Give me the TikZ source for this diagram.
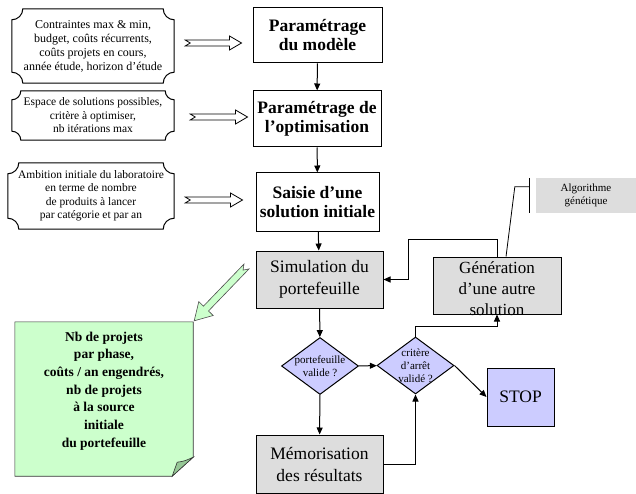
\documentclass[tikz,border=0pt]{standalone}
\usepackage{fontspec}
\setmainfont{Liberation Serif}
\usetikzlibrary{arrows.meta,calc,shapes.geometric,backgrounds}

\definecolor{boxgray}{RGB}{221,221,221}
\definecolor{lavender}{RGB}{204,204,255}
\definecolor{notegreen}{RGB}{204,255,204}
\definecolor{foldgreen}{RGB}{150,200,150}

\tikzset{
  flow/.style={line width=1pt,-{Triangle[length=7pt,width=6pt]}},
  stepbox/.style={draw,line width=1pt,fill=white,minimum width=128pt,minimum height=56pt,
    inner sep=0pt,align=center,font=\bfseries\fontsize{17.5}{19}\selectfont},
  simbox/.style={draw,line width=1pt,fill=boxgray,minimum width=127pt,minimum height=57pt,
    inner sep=0pt,align=center,font=\fontsize{17.5}{22}\selectfont},
  testbox/.style={diamond,draw,line width=1pt,fill=lavender,minimum width=77pt,
    minimum height=57pt,inner sep=0pt},
  smalltxt/.style={align=center,inner sep=0pt,font=\fontsize{11}{13}\selectfont},
  inbox/.style={align=center,inner sep=0pt,font=\fontsize{11.5}{13.5}\selectfont},
  notetxt/.style={align=center,inner sep=0pt,font=\bfseries\fontsize{13.5}{17.7}\selectfont},
  plaque/.style={line width=1pt},
  hollow/.style={line width=0.8pt,fill=white},
  greenarrow/.style={line width=0.6pt,draw=black!70,fill=notegreen}
}

% frame with hollowed corners round an input node
\newcommand\plaqueframe[2][11]{%
  \draw[plaque] ($(#2.north west)+(0,#1)$) .. controls ($(#2.north west)+(0.55*#1,#1)$) and ($(#2.north west)+(#1,0.55*#1)$) .. ($(#2.north west)+(#1,0)$)
    -- ($(#2.north east)+(-#1,0)$) .. controls ($(#2.north east)+(-#1,0.55*#1)$) and ($(#2.north east)+(-0.55*#1,#1)$) .. ($(#2.north east)+(0,#1)$)
    -- ($(#2.south east)+(0,-#1)$) .. controls ($(#2.south east)+(-0.55*#1,-#1)$) and ($(#2.south east)+(-#1,-0.55*#1)$) .. ($(#2.south east)+(-#1,0)$)
    -- ($(#2.south west)+(#1,0)$) .. controls ($(#2.south west)+(#1,-0.55*#1)$) and ($(#2.south west)+(0.55*#1,-#1)$) .. ($(#2.south west)+(0,-#1)$)
    -- cycle;}

% open block arrow with notched tail
\newcommand\hollowarrow[2]{%
  \draw[hollow] let \p1=(#1), \p2=(#2) in
    (\x1,\y1+3pt) -- (\x2-12pt,\y1+3pt) -- (\x2-12pt,\y1+7pt) -- (\x2,\y1)
    -- (\x2-12pt,\y1-7pt) -- (\x2-12pt,\y1-3pt) -- (\x1,\y1-3pt) -- (\x1+5pt,\y1) -- cycle;}

\begin{document}
\begin{tikzpicture}[x=1pt,y=-1pt]
  \useasboundingbox (0,0) rectangle (636,494);

  % main chain
  \node[stepbox,minimum width=129pt,minimum height=55pt] (par) at (317.5,35.5) {Paramétrage\\du modèle};
  \node[stepbox] (opt) at (317,119) {Paramétrage de\\l'optimisation};
  \node[stepbox,minimum width=123pt,minimum height=58pt] (init) at (317.5,202) {Saisie d'une\\solution initiale};
  \node[simbox] (sim) at (319.5,279.5) {Simulation du\\portefeuille};
  \node[testbox,label={[smalltxt]center:portefeuille\\valide ?}] (d1) at (320,366) {};
  \node[testbox,label={[smalltxt]center:critère\\d'arrêt\\validé ?}] (d2) at (415.5,365.5) {};
  \node[simbox,minimum height=58pt] (mem) at (319.5,464) {Mémorisation\\des résultats};
  \node[simbox,fill=lavender,minimum width=67pt,minimum height=58pt] (stop) at (520.5,397) {STOP};
  \node[simbox,minimum width=128pt,label={[inner sep=0pt,align=center,font=\fontsize{17}{21}\selectfont,yshift=-3pt]center:Génération\\d'une autre\\solution}] (gen) at (497,285.5) {};
  \node[smalltxt,fill=boxgray,minimum width=100pt,minimum height=35pt] (algo) at (586,195.5) {Algorithme\\génétique};

  % inputs
  \node[inbox,font=\fontsize{12}{14}\selectfont,minimum width=162pt,minimum height=74pt] (inA) at (93,46) {Contraintes max \& min,\\budget, coûts récurrents,\\coûts projets en cours,\\année étude, horizon d'étude};
  \node[inbox,minimum width=162pt,minimum height=49pt] (inB) at (93,115.5) {Espace de solutions possibles,\\critère à optimiser,\\nb itérations max};
  \node[inbox,minimum width=166pt,minimum height=66pt] (inC) at (91,196) {Ambition initiale du laboratoire\\en terme de nombre\\de produits à lancer\\par catégorie et par an};
  \plaqueframe{inA}
  \plaqueframe[9]{inB}
  \plaqueframe{inC}
  \hollowarrow{$(inA.east)+(11,-3)$}{$(par.west)+(-11,0)$}
  \hollowarrow{$(inB.east)+(16,1.5)$}{$(opt.west)+(-5,0)$}
  \hollowarrow{$(inC.east)+(11,4)$}{$(init.west)+(-13,0)$}

  % results note
  \node[minimum width=178pt,minimum height=154pt,inner sep=0pt] (res) at (104,399) {};
  \begin{scope}[on background layer]
    \draw[line width=0.6pt,draw=black!80,fill=notegreen] (res.north west) -- (res.north east)
      -- ($(res.south east)+(0,-19)$) -- ($(res.south east)+(-21,0)$) -- (res.south west) -- cycle;
    \draw[line width=0.6pt,draw=black!80,fill=foldgreen] ($(res.south east)+(0,-19)$)
      .. controls ($(res.south east)+(-9,-15)$) .. ($(res.south east)+(-16,-14)$) -- ($(res.south east)+(-21,0)$) -- cycle;
  \end{scope}
  \node[notetxt] (restxt) at ($(res.center)+(0,-8)$) {Nb de projets\\par phase,\\coûts / an engendrés,\\nb de projets\\à la source\\initiale\\du portefeuille};

  % green arrow towards the note
  \coordinate (gtail) at ($(sim.west)+(-9,-13)$);
  \coordinate (gtip) at ($(res.north east)+(1,-1)$);
  \coordinate (ghead) at ($(gtip)!17pt!(gtail)$);
  \draw[greenarrow] (gtip) -- ($(ghead)!10pt!90:(gtip)$) -- ($(ghead)!3.5pt!90:(gtip)$)
    -- ($(gtail)!3.5pt!90:(gtip)$) -- ($(gtail)!5pt!(gtip)$) -- ($(gtail)!3.5pt!-90:(gtip)$)
    -- ($(ghead)!3.5pt!-90:(gtip)$) -- ($(ghead)!10pt!-90:(gtip)$) -- cycle;

  % flow
  \draw[flow] (par) -- (opt);
  \draw[flow] (opt) -- (init);
  \draw[flow] (init) -- (sim);
  \draw[flow] (sim) -- (d1);
  \draw[flow] (d1) -- (mem);
  \draw[flow] (d1) -- (d2);
  \draw[flow] (d2.east) -- (stop.west);
  \draw[flow] (mem.east) -| (d2.south);
  \draw[flow] (d2.north) -- ++(0,-10) -| (gen.south);
  \draw[flow] (gen.north) -- ++(0,-17) -| ($(sim.east)+(25,0)$) -- (sim.east);

  % callout to the algorithm
  \draw[line width=0.8pt] ($(gen.north west)!0.57!(gen.north east)$) -- ($(algo.north west)+(-21,9)$) -- ($(algo.north west)+(-6,9)$);
  \draw[line width=1pt] ($(algo.north west)+(-6,0)$) -- ($(algo.south west)+(-6,0)$);
\end{tikzpicture}
\end{document}
